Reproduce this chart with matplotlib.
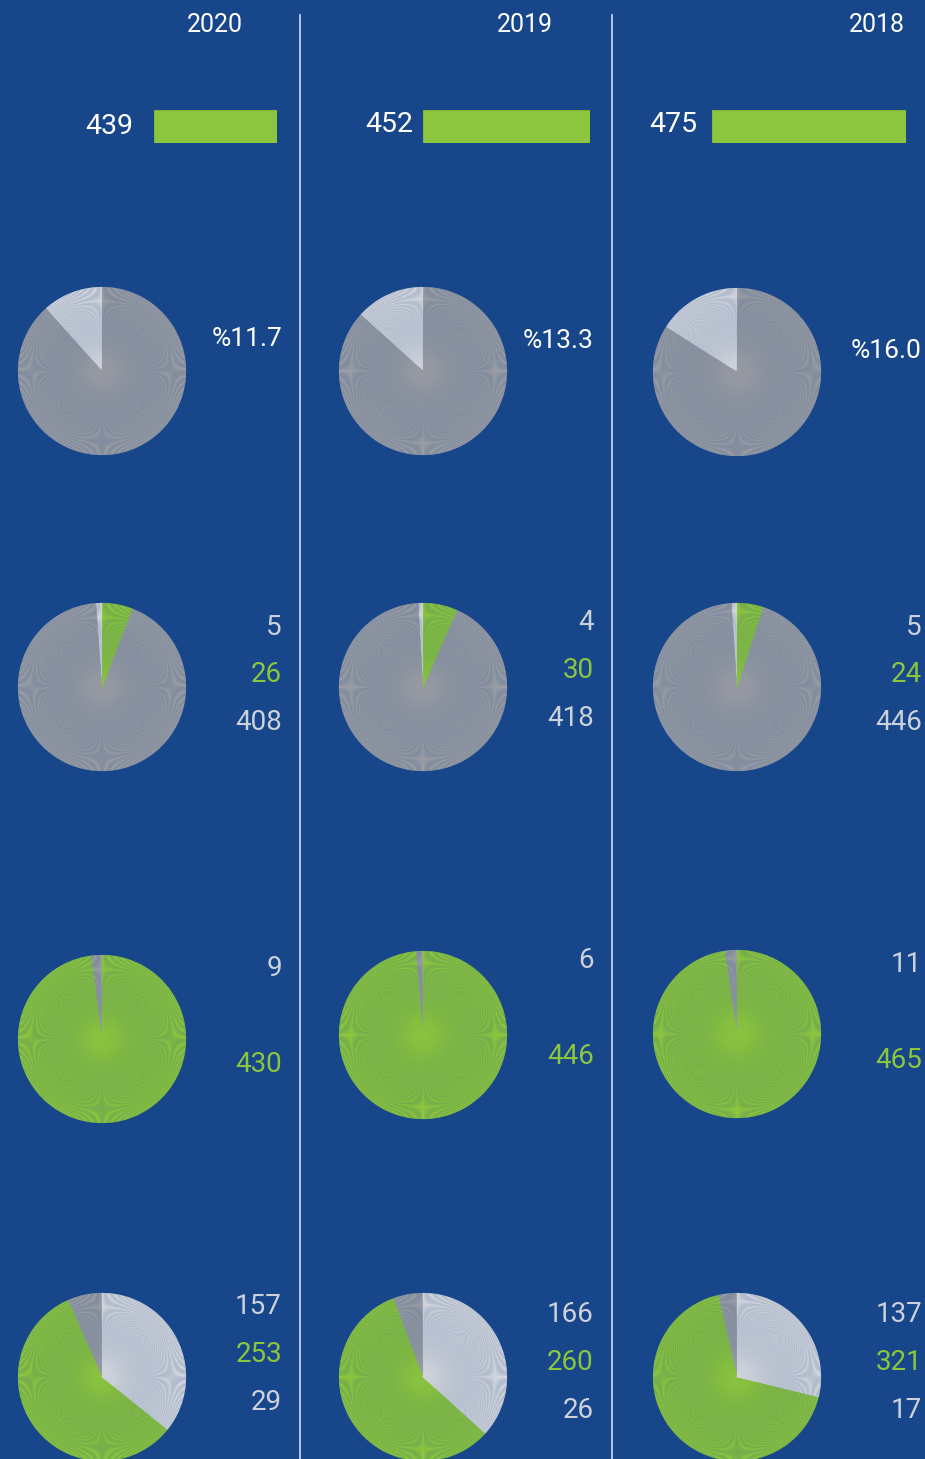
import matplotlib
matplotlib.use("Agg")
import matplotlib.pyplot as plt

# ---------------- data ----------------
years = ["2020", "2019", "2018"]
totals = [439, 452, 475]
pct_share = [11.7, 13.3, 16.0]
row2_light = [5, 4, 5]
row2_green = [26, 30, 24]
row2_gray = [408, 418, 446]
row3_gray = [9, 6, 11]
row3_green = [430, 446, 465]
row4_light = [157, 166, 137]
row4_green = [253, 260, 321]
row4_gray = [29, 26, 17]

# ---------------- style ----------------
BG = "#17478a"
GREEN = "#8cc63f"
GRAY = "#9a9da4"
LIGHT = "#d3d6dd"
TXT_GRAY = "#cdd2da"
WHITE = "#ffffff"
FONT = ["Roboto", "DejaVu Sans"]
DY = 3

W, H = 925, 1459
fig = plt.figure(figsize=(W / 100, H / 100), dpi=100, facecolor=BG)


def fx(x):
    return x / W


def fy(y):
    return 1 - y / H


def text(x, y, s, color, size, ha="right"):
    fig.text(fx(x), fy(y + DY), s, color=color, fontsize=size, ha=ha, va="center",
             family=FONT)


def unit_pie(cx, cy, r, segments):
    ax = fig.add_axes([fx(cx - r), fy(cy + r), 2 * r / W, 2 * r / H])
    ax.set_facecolor("none")
    vals, cols = [], []
    for n, c in segments:
        vals += [1] * int(n)
        cols += [c] * int(n)
    wedges, _ = ax.pie(vals, colors=cols, startangle=90, counterclock=True,
                       wedgeprops=dict(linewidth=0.12, antialiased=True))
    for w, c in zip(wedges, cols):
        w.set_edgecolor(c)
    ax.set_xlim(-1, 1)
    ax.set_ylim(-1, 1)
    ax.set_aspect("equal")
    ax.axis("off")


# column geometry (pixels)
year_x = [215, 525, 877]
bar_num_x = [133, 413, 697]
bar_num_y = [123, 121, 121]
bar_left = [154, 423, 712]
bar_right = [277, 590, 906]
pie_cx = [102, 423, 737]
row_cy = [[371, 687, 1039, 1377], [371, 687, 1035, 1377], [372, 687, 1034, 1377]]
lab_x = [282, 594, 922]
R = 84

# dividers
for xv in [300, 612]:
    fig.add_artist(plt.Line2D([fx(xv), fx(xv)], [fy(15), 0], color="#cfdcf0",
                              linewidth=1.2, transform=fig.transFigure))

for i in range(3):
    # year
    text(year_x[i], 22, years[i], WHITE, 18, ha="center")
    # bar
    bx = fig.add_axes([fx(bar_left[i]), fy(143), (bar_right[i] - bar_left[i]) / W, 33 / H])
    bx.barh([0], [totals[i]], height=1, color=GREEN, edgecolor="#7fb63a", linewidth=0.8)
    bx.set_xlim(0, totals[i])
    bx.set_ylim(-0.5, 0.5)
    bx.axis("off")
    text(bar_num_x[i], bar_num_y[i], str(totals[i]), WHITE, 20.5)

    cy = row_cy[i]
    # row 1: share pie
    n_light = round(pct_share[i] * totals[i] / 100)
    unit_pie(pie_cx[i], cy[0], R, [(n_light, LIGHT), (totals[i] - n_light, GRAY)])
    py = [336, 338, 348][i]
    text(lab_x[i], py, f"%{pct_share[i]:.1f}", WHITE, 19)

    # row 2
    unit_pie(pie_cx[i], cy[1], R, [(row2_light[i], LIGHT), (row2_gray[i], GRAY),
                                   (row2_green[i], GREEN)])
    y2 = [[624, 671, 719], [620, 668, 716], [624, 671, 719]][i]
    text(lab_x[i], y2[0], str(row2_light[i]), TXT_GRAY, 20)
    text(lab_x[i], y2[1], str(row2_green[i]), GREEN, 20)
    text(lab_x[i], y2[2], str(row2_gray[i]), TXT_GRAY, 20)

    # row 3
    unit_pie(pie_cx[i], cy[2], R, [(row3_gray[i], GRAY), (row3_green[i], GREEN)])
    y3 = [[965, 1061], [957, 1054], [961, 1057]][i]
    text(lab_x[i], y3[0], str(row3_gray[i]), TXT_GRAY, 20)
    text(lab_x[i], y3[1], str(row3_green[i]), GREEN, 20)

    # row 4
    unit_pie(pie_cx[i], cy[3], R, [(row4_gray[i], GRAY), (row4_green[i], GREEN),
                                   (row4_light[i], LIGHT)])
    y4 = [[1303, 1351, 1399], [1311, 1359, 1407], [1312, 1360, 1408]][i]
    text(lab_x[i], y4[0], str(row4_light[i]), TXT_GRAY, 20)
    text(lab_x[i], y4[1], str(row4_green[i]), GREEN, 20)
    text(lab_x[i], y4[2], str(row4_gray[i]), TXT_GRAY, 20)

fig.savefig("out.png", dpi=100, facecolor=BG)
